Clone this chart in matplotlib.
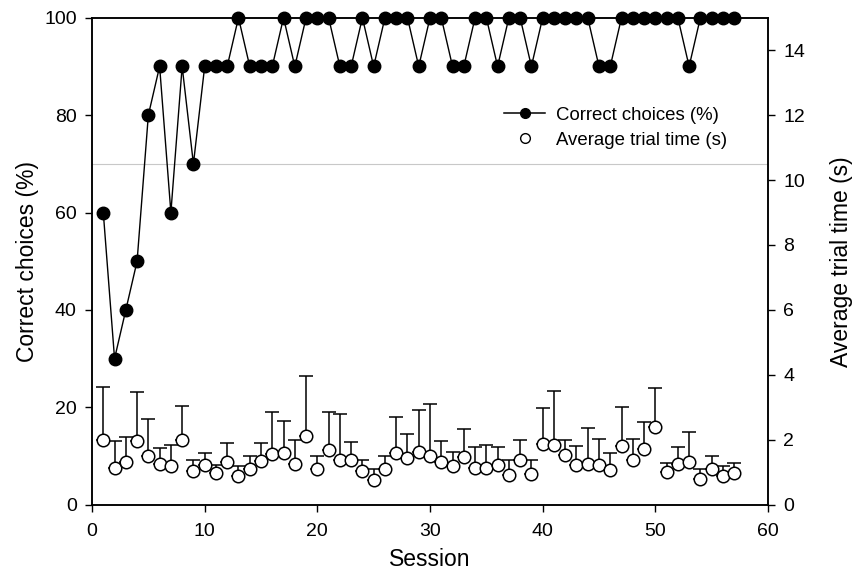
import numpy as np
import matplotlib
matplotlib.use("Agg")
import matplotlib.pyplot as plt
from matplotlib.lines import Line2D

plt.rcParams['font.family'] = ['Liberation Sans', 'DejaVu Sans']

sessions = list(range(1, 58))

correct = [60, 30, 40, 50, 80, 90, 60, 90, 70, 90,
           90, 90, 100, 90, 90, 90, 100, 90, 100, 100,
           100, 90, 90, 100, 90, 100, 100, 100, 90, 100,
           100, 90, 90, 100, 100, 90, 100, 100, 90, 100,
           100, 100, 100, 100, 90, 90, 100, 100, 100, 100,
           100, 100, 90, 100, 100, 100, 100]

trial_time = [1.98, 1.13, 1.33, 1.97, 1.51, 1.26, 1.18, 1.98, 1.03, 1.23,
              0.98, 1.31, 0.89, 1.10, 1.36, 1.57, 1.59, 1.25, 2.12, 1.10,
              1.69, 1.39, 1.39, 1.03, 0.77, 1.11, 1.59, 1.44, 1.61, 1.49,
              1.33, 1.18, 1.46, 1.13, 1.13, 1.21, 0.92, 1.37, 0.94, 1.87,
              1.85, 1.52, 1.21, 1.25, 1.23, 1.08, 1.82, 1.39, 1.71, 2.39,
              1.01, 1.25, 1.33, 0.80, 1.11, 0.90, 0.99]

# top of the error bar (mean + SD)
trial_top = [3.64, 1.97, 2.10, 3.47, 2.65, 1.74, 1.85, 3.05, 1.39, 1.59,
             1.22, 1.90, 1.20, 1.51, 1.90, 2.87, 2.59, 2.00, 3.98, 1.51,
             2.85, 2.79, 1.94, 1.39, 1.11, 1.49, 2.69, 2.19, 2.93, 3.10,
             1.97, 1.64, 2.34, 1.78, 1.85, 1.78, 1.39, 1.99, 1.37, 2.98,
             3.51, 1.98, 1.82, 2.36, 2.02, 1.59, 3.01, 2.02, 2.54, 3.61,
             1.30, 1.78, 2.23, 1.11, 1.49, 1.18, 1.30]

err_up = np.array(trial_top) - np.array(trial_time)
err = [np.zeros(len(err_up)), err_up]

fig = plt.figure(figsize=(8.6, 5.71), dpi=100)
ax = fig.add_axes([0.107, 0.116, 0.786, 0.853])
ax2 = ax.twinx()

ax.axhline(70, color='#c8c8c8', lw=0.8, zorder=0)
ax.plot(sessions, correct, '-o', color='black', mfc='black', ms=9, lw=1.0,
        clip_on=False, zorder=5)

ax2.errorbar(sessions, trial_time, yerr=err, fmt='o', color='black', mfc='white',
             mec='black', ms=9, mew=1.1, elinewidth=1.1, capsize=5, capthick=1.1,
             clip_on=False)

ax.set_xlim(0, 60)
ax.set_ylim(0, 100)
ax2.set_ylim(0, 15)
ax.set_xticks(range(0, 61, 10))
ax.set_yticks(range(0, 101, 20))
ax2.set_yticks(range(0, 15, 2))

for a in (ax, ax2):
    a.tick_params(direction='out', length=5, width=1, labelsize=14)
    for s in a.spines.values():
        s.set_linewidth(1.1)
ax.tick_params(axis='x', pad=8)
ax.tick_params(axis='y', pad=6)
ax2.tick_params(axis='y', pad=6)

ax.set_xlabel("Session", fontsize=16.5, labelpad=6)
ax.set_ylabel("Correct choices (%)", fontsize=16.5, labelpad=4)
ax2.set_ylabel("Average trial time (s)", fontsize=16.5, labelpad=18)

h1 = Line2D([], [], color='black', marker='o', ms=7, lw=1.1)
h2 = Line2D([], [], color='black', marker='o', mfc='white', ms=7, lw=0)
ax2.legend([h1, h2], ["Correct choices (%)", "Average trial time (s)"],
           loc='upper left', bbox_to_anchor=(0.585, 0.852), frameon=False,
           fontsize=13.4, handlelength=2.2, handletextpad=0.6, labelspacing=0.45)

fig.savefig("out.png", dpi=100)
